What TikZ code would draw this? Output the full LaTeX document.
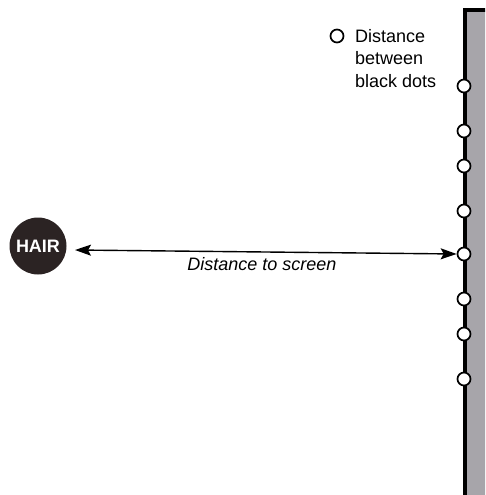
\documentclass[tikz,border=0pt]{standalone}
\usepackage{fontspec}
\setmainfont{Liberation Sans}
\usetikzlibrary{arrows.meta}
\definecolor{screengray}{HTML}{A7A5AA}
\definecolor{hairdark}{HTML}{2B2323}
\tikzset{
  dotmark/.style={circle, draw=black, fill=white, line width=1.7pt, minimum size=13pt, inner sep=0pt},
  lbl/.style={font=\fontsize{18}{22}\selectfont, inner sep=0pt},
  dimarrow/.style={line width=1.4pt, {Stealth[length=16pt,width=11pt,inset=3pt]}-{Stealth[length=16pt,width=11pt,inset=3pt]}}
}
\begin{document}
\begin{tikzpicture}[x=1pt,y=-1pt]
  \useasboundingbox (0,0) rectangle (485,495);
  % screen
  \begin{scope}
    \clip (0,0) rectangle (485,495);
    \fill[screengray] (464,10) rectangle (490,500);
    \draw[line width=4.5pt] (465,500) -- (465,10) -- (490,10);
  \end{scope}
  % dots on the screen
  \foreach \n/\y in {1/86,2/131,3/166,4/211,5/254,6/299,7/334,8/379}
    \node[dotmark] (d\n) at (464,\y) {};
  % legend
  \node[dotmark] (leg) at (337,36) {};
  \node[lbl, anchor=base west] (l1) at (355,43) {Distance};
  \node[lbl, anchor=base west] (l2) at (355,65) {between};
  \node[lbl, anchor=base west] (l3) at (355,87) {black dots};
  % hair
  \node[circle, fill=hairdark, minimum size=57pt, inner sep=0pt,
        text=white, font=\fontsize{18}{18}\selectfont\bfseries] (hair) at (38,246) {HAIR};
  \coordinate (hairend) at (75,250);
  \draw[dimarrow] (hairend) -- (d5.west);
  \node[lbl, font=\fontsize{18}{22}\selectfont\itshape, anchor=base] (dist) at (262,270) {Distance to screen};
\end{tikzpicture}
\end{document}
